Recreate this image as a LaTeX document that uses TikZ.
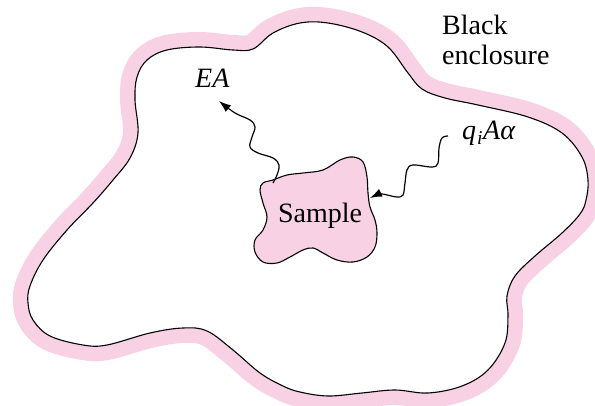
\documentclass[tikz,border=0pt]{standalone}
\usepackage{fontspec}
\setmainfont{Liberation Serif}
\usetikzlibrary{arrows.meta}
\definecolor{encpink}{RGB}{248,210,228}
\begin{document}
\begin{tikzpicture}[x=1pt,y=-1pt,
  lbl/.style={font=\fontsize{28}{30}\selectfont, inner sep=0pt},
  wave/.style={line width=1.2pt, -{Latex[length=12pt,width=8.5pt]}},
  outline/.style={line width=1.1pt, black}]
\useasboundingbox (0,0) rectangle (595,406);
\def\enc{plot[smooth cycle, tension=0.6] coordinates{
 (135,100) (137,77) (147,60) (167,50) (200,47) (233,50) (253,49) (273,33) (300,23)
 (328,23) (362,32) (388,47) (408,73) (422,89) (445,98) (478,105) (528,117) (562,133)
 (582,157) (588,180) (586,200) (580,214) (562,233) (535,256) (515,276) (507,296)
 (508,316) (505,343) (488,370) (462,386) (428,393) (395,390) (362,393) (328,396)
 (300,392) (283,386) (260,373) (233,350) (207,331) (183,328) (150,333) (107,345)
 (83,345) (50,336) (33,320) (28,303) (30,286) (43,260) (67,230) (93,203) (113,180)
 (130,158) (138,133)}}
% enclosure
\draw[encpink, line width=30pt, line join=round] \enc;
\fill[white] \enc;
\draw[outline] \enc;
% sample
\draw[outline, fill=encpink] plot[smooth cycle, tension=0.6] coordinates{
 (263,183) (273,180) (287,175) (303,173) (323,170) (340,160) (353,157) (363,162)
 (367,177) (368,193) (370,207) (375,220) (377,233) (375,247) (367,257) (353,262)
 (337,260) (323,253) (313,248) (303,250) (290,257) (277,263) (263,262) (255,252)
 (255,240) (263,230) (267,217) (263,203) (260,190)};
\node[lbl, anchor=base] (sample) at (320,223) {Sample};
% labels
\node[lbl, anchor=base west] (ea) at (195,88) {\textit{EA}};
\node[lbl, anchor=base west] (qi) at (462,140) {\textit{q}\kern1pt\textsubscript{\textit{i}}\textit{A}\textit{α}};
\node[lbl, anchor=north west, align=left] (encl) at (442,15) {Black\\enclosure};
% endpoints
\coordinate (eafrom) at (273,183);
\coordinate (eato) at (219,101);
\coordinate (qfrom) at (448,136);
\coordinate (qto) at (370,198);
\draw[wave] plot[smooth, tension=0.6] coordinates{
 (eafrom) (277,175) (279,165) (273,158) (258,153) (250,147) (252,137) (255,127)
 (250,120) (235,113) (eato)};
\draw[wave] plot[smooth, tension=0.6] coordinates{
 (qfrom) (442,138) (439,148) (438,163) (432,167) (413,165) (407,170) (405,183)
 (403,195) (397,197) (387,195) (380,194) (qto)};
\end{tikzpicture}
\end{document}
